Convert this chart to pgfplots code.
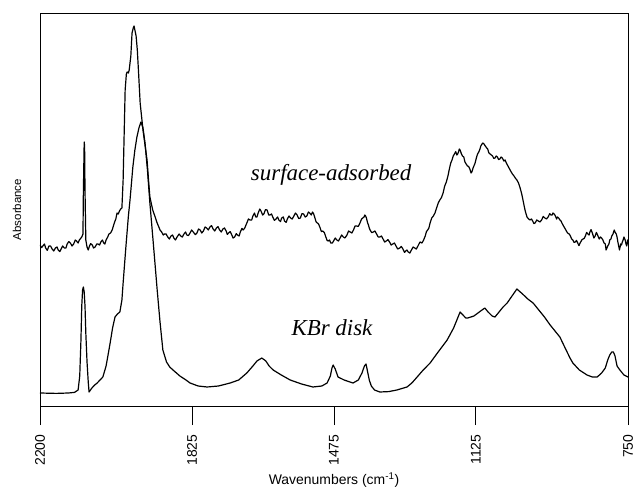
\documentclass[border=0pt]{standalone}
\usepackage{fontspec}
\setmainfont{Liberation Sans}
\newfontfamily\timesf{Liberation Serif}
\usepackage{pgfplots}
\pgfplotsset{compat=1.18}
\begin{document}
\begin{tikzpicture}
\begin{axis}[
  at={(0,0)}, anchor=south west,
  scale only axis, width=588bp, height=393bp,
  x dir=reverse, xmin=750, xmax=2200, ymin=0, ymax=1.965,
  xtick={2200,1825,1475,1125,750},
  /pgf/number format/1000 sep={},
  /pgf/number format/assume math mode=true,
  xticklabel style={rotate=90, anchor=east, font=\fontsize{14}{16}\selectfont},
  xticklabel shift=6bp,
  ytick=\empty,
  xtick pos=left,
  tick align=outside,
  major tick length=19bp,
  axis line style={line width=0.9bp},
  every tick/.style={black, line width=0.9bp},
  xlabel={Wavenumbers (cm\textsuperscript{-1})},
  xlabel style={at={(axis description cs:0.5,-0.1883)}, anchor=center, font=\fontsize{14}{16}\selectfont},
  ylabel={Absorbance},
  ylabel style={at={(axis description cs:-0.039,0.5)}, anchor=center, font=\fontsize{11.5}{13}\selectfont},
]
\addplot[black, line width=1.2bp, line join=round] coordinates {
(2200,0.805)(2196,0.792)(2193,0.80)(2189,0.81)(2186,0.79)(2182,0.778)(2178,0.80)(2174,0.80)(2170,0.785)(2166,0.775)(2162,0.79)(2158,0.795)(2155,0.78)(2151,0.772)(2148,0.785)(2144,0.80)(2140,0.79)(2136,0.79)(2133,0.81)(2129,0.822)(2125,0.815)(2121,0.80)(2117,0.81)(2113,0.83)(2110,0.825)(2106,0.815)(2103,0.83)
(2097,0.845)(2094,0.86)(2093,1.07)(2091,1.32)(2090,1.30)(2089,1.08)(2087,0.83)
(2084,0.795)(2081,0.78)(2078,0.80)(2075,0.812)(2071,0.805)(2068,0.79)(2064,0.795)(2060,0.81)(2057,0.81)(2053,0.805)(2050,0.82)(2046,0.83)(2043,0.815)(2040,0.81)(2037,0.83)
(2033,0.845)(2030,0.86)(2026,0.865)(2022,0.88)(2019,0.90)(2016,0.92)(2013,0.935)(2010,0.965)(2007,0.96)(2004,0.975)(2001,0.985)(1998,0.99)(1995,1.13)(1992,1.40)(1990,1.58)(1987,1.66)(1985,1.67)(1982,1.665)(1980,1.68)(1976,1.75)(1973,1.865)(1970,1.89)(1968,1.90)(1966,1.88)(1963,1.85)(1960,1.78)(1957,1.67)(1953,1.515)(1946,1.38)(1940,1.29)(1936,1.23)(1932,1.12)(1929,1.045)(1922,0.98)(1916,0.945)(1912,0.92)(1908,0.90)(1904,0.88)
(1900,0.87)(1896,0.855)(1893,0.86)(1889,0.86)(1885,0.845)(1881,0.835)(1877,0.85)(1873,0.855)(1870,0.84)(1866,0.83)(1862,0.845)(1857,0.86)(1853,0.85)(1849,0.845)(1845,0.86)(1841,0.87)(1838,0.855)(1834,0.852)(1830,0.865)(1826,0.88)(1822,0.87)(1817,0.857)(1813,0.865)(1809,0.885)(1805,0.88)(1801,0.865)(1797,0.875)(1793,0.895)(1789,0.89)(1785,0.88)(1781,0.895)(1777,0.902)(1773,0.885)(1769,0.875)(1765,0.89)(1761,0.897)(1757,0.88)(1753,0.87)(1749,0.885)(1745,0.89)(1741,0.875)(1738,0.858)(1735,0.865)(1731,0.872)(1728,0.86)(1724,0.84)(1720,0.845)(1716,0.862)(1713,0.855)(1709,0.85)(1706,0.87)(1702,0.888)(1699,0.88)(1695,0.89)(1690,0.915)(1686,0.935)(1682,0.93)(1678,0.93)(1675,0.95)(1671,0.965)(1668,0.945)(1665,0.945)(1662,0.965)(1658,0.985)(1655,0.975)(1651,0.955)(1648,0.96)(1644,0.982)(1640,0.98)(1636,0.955)(1633,0.955)(1629,0.96)(1626,0.945)(1622,0.928)(1618,0.935)(1614,0.945)(1611,0.93)(1607,0.922)(1604,0.94)(1600,0.945)(1597,0.925)(1593,0.918)(1590,0.935)(1586,0.95)(1582,0.94)(1578,0.935)(1574,0.95)(1570,0.965)(1566,0.955)(1562,0.937)(1558,0.94)(1554,0.962)(1550,0.96)(1546,0.945)(1542,0.95)(1538,0.97)(1535,0.965)(1531,0.955)(1528,0.97)(1525,0.96)(1522,0.94)(1519,0.92)(1516,0.915)(1513,0.91)(1510,0.895)(1506,0.872)(1503,0.875)(1499,0.868)(1496,0.85)(1492,0.828)(1489,0.825)(1486,0.83)(1483,0.815)(1479,0.815)(1476,0.825)(1472,0.84)(1468,0.83)(1464,0.825)(1460,0.84)(1456,0.855)(1452,0.845)(1448,0.84)(1443,0.855)(1439,0.875)(1435,0.87)(1431,0.865)(1427,0.88)(1423,0.9)(1419,0.90)(1415,0.898)(1411,0.915)(1407,0.935)(1404,0.94)(1401,0.945)(1399,0.955)(1397,0.95)(1395,0.94)(1392,0.915)(1390,0.905)(1388,0.89)(1386,0.88)(1382,0.867)(1378,0.87)(1374,0.875)(1370,0.86)(1366,0.845)(1362,0.845)(1358,0.85)(1354,0.835)(1350,0.82)(1346,0.825)(1342,0.832)(1338,0.82)(1334,0.805)(1330,0.81)(1326,0.815)(1322,0.80)(1318,0.785)(1313,0.79)(1309,0.798)(1305,0.785)(1301,0.768)(1298,0.775)(1295,0.78)(1292,0.77)(1288,0.765)(1284,0.78)(1280,0.795)(1276,0.79)(1272,0.785)(1268,0.80)(1263,0.82)(1258,0.815)(1254,0.83)(1250,0.85)(1247,0.872)(1244,0.88)(1241,0.89)(1238,0.915)
(1234,0.94)(1230,0.95)(1226,0.965)(1222,0.99)(1218,1.015)(1214,1.03)(1210,1.042)(1206,1.065)(1202,1.10)(1198,1.12)(1194,1.15)(1190,1.19)(1187,1.215)(1184,1.23)(1181,1.25)(1178,1.26)(1175,1.272)(1172,1.255)(1170,1.26)(1168,1.27)(1166,1.285)(1164,1.28)(1161,1.262)(1158,1.25)(1155,1.245)(1152,1.22)(1149,1.21)(1146,1.20)(1143,1.198)(1140,1.185)(1137,1.165)(1135,1.17)(1132,1.19)(1130,1.20)(1127,1.215)(1124,1.24)(1121,1.26)(1118,1.27)(1115,1.285)(1113,1.30)(1110,1.31)(1108,1.315)(1105,1.31)(1102,1.30)(1099,1.292)(1096,1.285)(1093,1.265)(1090,1.26)(1087,1.255)(1084,1.25)(1081,1.238)(1078,1.24)(1075,1.25)(1072,1.245)(1069,1.232)(1066,1.235)(1063,1.245)(1060,1.24)(1056,1.225)(1053,1.23)(1050,1.215)(1046,1.20)(1042,1.185)(1038,1.17)(1035,1.16)(1031,1.15)(1028,1.14)(1024,1.13)(1020,1.115)(1016,1.09)(1012,1.06)(1009,1.03)(1006,1.00)(1004,0.98)(1001,0.958)(999,0.945)
(995,0.935)(992,0.93)(988,0.935)(985,0.925)(982,0.912)(979,0.915)(975,0.93)(971,0.925)(967,0.92)(963,0.93)(959,0.948)(955,0.94)(951,0.935)(947,0.945)(943,0.962)(940,0.955)(937,0.955)(935,0.965)(932,0.96)(929,0.95)(926,0.935)(924,0.945)(921,0.94)(918,0.93)(915,0.925)(913,0.915)(909,0.9)(906,0.89)(902,0.875)(899,0.865)(895,0.86)(892,0.85)(889,0.835)(886,0.83)(883,0.818)(880,0.82)(877,0.828)(874,0.815)(871,0.802)(868,0.815)(864,0.83)(861,0.835)(858,0.838)(855,0.85)(852,0.868)(849,0.86)(846,0.855)(844,0.87)(841,0.882)(838,0.865)(834,0.84)(831,0.85)(828,0.868)(825,0.855)(821,0.835)(818,0.845)(815,0.84)(812,0.83)(809,0.815)(806,0.81)(804,0.78)(802,0.79)(800,0.80)(797,0.81)(795,0.83)(792,0.835)(790,0.85)(787,0.86)(784,0.88)(782,0.87)(779,0.86)(777,0.845)(775,0.82)(773,0.80)(771,0.78)(770,0.79)(768,0.81)(766,0.805)(764,0.82)(762,0.83)(760,0.845)(757,0.83)(755,0.81)(753,0.80)(751,0.83)(750,0.81)
};
\addplot[black, line width=1.2bp, line join=round] coordinates {
(2200,0.065)(2160,0.063)(2130,0.065)(2115,0.068)(2106,0.08)(2102,0.15)(2099,0.33)(2097,0.50)(2095,0.58)(2093,0.595)(2091,0.57)(2089,0.50)(2087,0.365)(2084,0.22)(2081,0.12)(2079,0.07)(2072,0.09)(2065,0.105)(2059,0.115)(2052,0.13)(2045,0.145)(2037,0.20)(2030,0.28)(2027,0.315)(2021,0.39)(2015,0.445)(2009,0.46)(2003,0.47)(1998,0.53)(1995,0.615)(1988,0.80)(1982,0.95)(1978,1.03)(1971,1.195)(1966,1.28)(1961,1.345)(1956,1.39)(1951,1.42)(1946,1.39)(1941,1.315)(1935,1.18)(1929,1.015)(1920,0.80)(1911,0.58)(1904,0.42)(1897,0.28)(1888,0.22)(1880,0.195)(1872,0.18)(1855,0.15)(1840,0.13)(1830,0.115)(1810,0.10)(1788,0.095)(1760,0.10)(1731,0.115)(1710,0.13)(1690,0.165)(1675,0.20)(1665,0.225)(1653,0.24)(1643,0.225)(1635,0.20)(1625,0.18)(1605,0.155)(1583,0.13)(1555,0.11)(1527,0.095)(1505,0.10)(1492,0.115)(1484,0.15)(1480,0.19)(1477,0.205)(1472,0.185)(1465,0.145)(1450,0.13)(1428,0.115)(1415,0.13)(1406,0.165)(1400,0.20)(1396,0.21)(1392,0.17)(1388,0.13)(1383,0.10)(1375,0.08)(1362,0.07)(1340,0.072)(1320,0.08)(1295,0.095)(1283,0.115)(1270,0.145)(1255,0.18)(1238,0.215)(1220,0.265)(1196,0.33)(1180,0.39)(1170,0.44)(1164,0.47)(1157,0.455)(1150,0.44)(1145,0.44)(1130,0.45)(1120,0.465)(1110,0.48)(1103,0.49)(1095,0.47)(1085,0.45)(1078,0.445)(1068,0.47)(1058,0.495)(1048,0.515)(1036,0.55)(1024,0.585)(1010,0.56)(997,0.535)(984,0.515)(970,0.48)(956,0.445)(942,0.405)(930,0.375)(918,0.345)(905,0.29)(893,0.24)(886,0.215)(870,0.18)(851,0.155)(838,0.145)(826,0.145)(815,0.165)(806,0.19)(800,0.23)(795,0.255)(790,0.27)(786,0.27)(782,0.25)(777,0.20)(770,0.18)(760,0.155)(750,0.145)
};
\node[font=\timesf\itshape\fontsize{23}{26}\selectfont] at (axis cs:1482,1.155) {surface-adsorbed};
\node[font=\timesf\itshape\fontsize{23}{26}\selectfont] at (axis cs:1480,0.39) {KBr disk};
\end{axis}
\pgfresetboundingbox
\path[use as bounding box] (-40bp,-83bp) rectangle (599bp,406bp);
\end{tikzpicture}
\end{document}
